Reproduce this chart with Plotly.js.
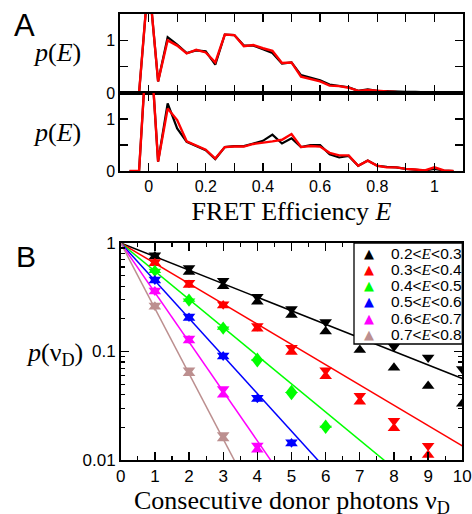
<!DOCTYPE html>
<html><head><meta charset="utf-8">
<script src="https://cdn.plot.ly/plotly-3.0.1.min.js"></script>
<style>html,body{margin:0;padding:0;background:#fff}#chart{width:472px;height:514px}</style>
</head><body><div id="chart"></div>
<script>
// ---------- Panel A data: FRET efficiency histograms ----------
const effE = [-0.0667,-0.0333,0,0.0333,0.0667,0.1,0.1333,0.1667,0.2,0.2333,0.2667,0.3,0.3333,0.3667,0.4,0.4333,0.4667,0.5,0.5333,0.5667,0.6,0.6333,0.6667,0.7,0.7333,0.7667,0.8,0.8333,0.8667,0.9,0.9333,0.9667,1.0,1.0333,1.0667];
const topBlack = [0,0,2.2,0.22,1.06,0.92,0.76,0.81,0.79,0.54,1.11,1.10,0.90,0.90,0.83,0.76,0.56,0.58,0.34,0.29,0.24,0.16,0.14,0.11,0.04,0.07,0.04,0.03,0.03,0.02,0.02,0.01,0.01,0.00,0];
const topRed   = [0,0,2.2,0.22,1.00,0.90,0.75,0.82,0.77,0.58,1.11,1.10,0.89,0.91,0.85,0.80,0.57,0.58,0.31,0.27,0.22,0.14,0.13,0.10,0.04,0.06,0.04,0.03,0.02,0.02,0.01,0.01,0.02,0.01,0];
const lowBlack = [0,0,3.0,0.18,1.30,0.82,0.56,0.48,0.40,0.23,0.46,0.48,0.48,0.53,0.58,0.70,0.53,0.63,0.46,0.50,0.50,0.32,0.26,0.29,0.10,0.20,0.10,0.08,0.07,0.04,0.02,0.01,0.04,0.01,0];
const lowRed   = [0,0,3.0,0.18,1.20,0.98,0.57,0.49,0.41,0.24,0.46,0.47,0.47,0.52,0.54,0.57,0.60,0.71,0.46,0.48,0.47,0.35,0.30,0.30,0.10,0.20,0.10,0.07,0.07,0.04,0.03,0.01,0.07,0.01,0];
const effTicks = [0,0.1,0.2,0.3,0.4,0.5,0.6,0.7,0.8,0.9,1];
const effTickText = ['0',' ','0.2',' ','0.4',' ','0.6',' ','0.8',' ','1'];

// ---------- Panel B data: consecutive donor photons ----------
const nuD = [1,2,3,4,5,6,7,8,9,10];
const binLow  = [0.2,0.3,0.4,0.5,0.6,0.7];
const binHigh = [0.3,0.4,0.5,0.6,0.7,0.8];
const binColors = ['#000000','#ff0000','#00ff00','#0000ff','#ff00ff','#bc8f8f'];
// downward triangles
const pDown = [
  [0.77,0.59,0.45,0.32,0.246,0.187,0.135,0.111,0.088,0.069],
  [0.67,0.43,0.272,0.172,0.108,0.067,0.039,0.023,0.0135,null],
  [0.545,0.29,0.16,0.080,0.040,0.0195,null,null,null,null],
  [0.46,0.21,0.092,0.0375,0.0146,null,null,null,null,null],
  [0.365,0.132,0.045,0.0136,null,null,null,null,null,null],
  [0.266,0.067,0.0170,null,null,null,null,null,null,null]
];
// upward triangles
const pUp = [
  [0.75,0.54,0.40,0.288,0.217,0.153,0.103,0.071,0.048,0.033],
  [0.65,0.41,0.265,0.162,0.099,0.059,0.0345,0.0196,0.0111,null],
  [0.56,0.305,0.168,0.087,0.044,0.021,null,null,null,null],
  [0.452,0.204,0.090,0.0365,0.0142,null,null,null,null,null],
  [0.357,0.126,0.040,0.0124,null,null,null,null,null,null],
  [0.258,0.063,0.0158,null,null,null,null,null,null,null]
];
const fitNu = [0,10];
const yTickVals = [0.01,0.1,1];
const yTickText = ['0.01','0.1','1'];

const W = 472, H = 514;
const px = v => v / W;
const py = v => 1 - v / H;

const traces = [];
function hist(x, y, col, w, xa, ya) {
  traces.push({x: x, y: y, xaxis: xa, yaxis: ya, type: 'scatter', mode: 'lines',
    line: {color: col, width: w}, showlegend: false, hoverinfo: 'skip'});
}
hist(effE, topBlack, '#000', 2.2, 'x', 'y');
hist(effE, topRed, '#ff0000', 2.4, 'x', 'y');
hist(effE, lowBlack, '#000', 2.2, 'x2', 'y2');
hist(effE, lowRed, '#ff0000', 2.4, 'x2', 'y2');

binLow.forEach((lo, i) => {
  const base = 1 - (lo + binHigh[i]) / 2;
  traces.push({x: fitNu, y: fitNu.map(n => Math.pow(base, n)), xaxis: 'x3', yaxis: 'y3',
    type: 'scatter', mode: 'lines', line: {color: binColors[i], width: 1.5},
    showlegend: false, hoverinfo: 'skip'});
});
binLow.forEach((lo, i) => {
  traces.push({x: nuD, y: pDown[i], xaxis: 'x3', yaxis: 'y3', type: 'scatter', mode: 'markers',
    marker: {symbol: 'triangle-down', size: 11, color: binColors[i]}, showlegend: false});
  traces.push({x: nuD, y: pUp[i], xaxis: 'x3', yaxis: 'y3', type: 'scatter', mode: 'markers',
    name: lo + '<E<' + binHigh[i],
    marker: {symbol: 'triangle-up', size: 11, color: binColors[i]}, showlegend: false});
});

const tickFont = {family: 'Liberation Sans, Arial, sans-serif', size: 16, color: '#000'};
const serif = 'Liberation Serif, Times New Roman, serif';
const common = {showline: true, linecolor: '#000', linewidth: 1.6, mirror: 'ticks', ticks: 'inside',
  tickcolor: '#000', tickwidth: 1.3, showgrid: false, zeroline: false, fixedrange: true};

const xA = Object.assign({}, common, {domain: [px(120), px(463)], range: [-0.1, 1.1],
  tickmode: 'array', tickvals: effTicks, ticktext: effTickText, ticklen: 8, tickfont: tickFont});
const yA = Object.assign({}, common, {range: [0, 1.5], tickmode: 'array', tickvals: [0, 0.5, 1],
  ticktext: ['0', ' ', '1'], ticklen: 8, tickfont: tickFont});

const layout = {
  width: W, height: H, margin: {l: 0, r: 0, t: 0, b: 0},
  paper_bgcolor: '#fff', plot_bgcolor: '#fff', showlegend: false,
  xaxis: Object.assign({}, xA, {anchor: 'y', showticklabels: false}),
  yaxis: Object.assign({}, yA, {anchor: 'x', domain: [py(93), py(14)]}),
  xaxis2: Object.assign({}, xA, {anchor: 'y2',
    title: {text: 'FRET Efficiency <i>E</i>', font: {family: serif, size: 26, color: '#000'}, standoff: 8}}),
  yaxis2: Object.assign({}, yA, {anchor: 'x2', domain: [py(171), py(93)]}),
  xaxis3: Object.assign({}, common, {anchor: 'y3', domain: [px(120.7), px(462.3)], range: [0, 10],
    tickmode: 'array', tickvals: nuD.concat([0]), ticklen: 8, tickfont: Object.assign({}, tickFont, {size: 17}),
    minor: {dtick: 0.5, ticks: 'inside', ticklen: 4, tickcolor: '#000', tickwidth: 1.2}}),
  yaxis3: Object.assign({}, common, {anchor: 'x3', domain: [py(460), py(243)], type: 'log',
    range: [-2.0002, 0.0002], tickmode: 'array', tickvals: yTickVals, ticktext: yTickText, ticklen: 8,
    tickfont: Object.assign({}, tickFont, {size: 17}),
    minor: {tickmode: 'array', tickvals: [0.02,0.03,0.04,0.05,0.06,0.07,0.08,0.09,0.2,0.3,0.4,0.5,0.6,0.7,0.8,0.9],
      ticks: 'inside', ticklen: 4, tickcolor: '#000', tickwidth: 1.2}}),
  shapes: [
    {type: 'rect', xref: 'paper', yref: 'paper', x0: px(354), x1: px(462.3), y0: py(344), y1: py(243),
      fillcolor: '#fff', line: {color: '#000', width: 1.3}, layer: 'above'}
  ],
  annotations: []
};
const ann = layout.annotations;
const sans = 'Liberation Sans, Arial, sans-serif';
ann.push({text: 'A', x: px(24), y: py(25), xref: 'paper', yref: 'paper', showarrow: false,
  font: {family: sans, size: 31, color: '#000'}, xanchor: 'center', yanchor: 'middle'});
ann.push({text: 'B', x: px(26), y: py(256), xref: 'paper', yref: 'paper', showarrow: false,
  font: {family: sans, size: 30, color: '#000'}, xanchor: 'center', yanchor: 'middle'});
[53, 132].forEach(yy => ann.push({text: '<i>p</i>(<i>E</i>)', x: px(57), y: py(yy), xref: 'paper', yref: 'paper',
  showarrow: false, font: {family: serif, size: 26, color: '#000'}, xanchor: 'center', yanchor: 'middle'}));
ann.push({text: '<i>p</i>(ν<sub>D</sub>)', x: px(54), y: py(354), xref: 'paper', yref: 'paper',
  showarrow: false, font: {family: serif, size: 26, color: '#000'}, xanchor: 'center', yanchor: 'middle'});
// x-axis title of panel B
ann.push({text: 'Consecutive donor photons ν<sub>D</sub>', x: px(291.5), y: py(484), xref: 'paper', yref: 'paper',
  showarrow: false, font: {family: serif, size: 26, color: '#000'}, xanchor: 'center', yanchor: 'top'});
binLow.forEach((lo, i) => {
  const yy = 253.3 + 16.2 * i;
  ann.push({text: '▲', x: px(368.5), y: py(yy), xref: 'paper', yref: 'paper', showarrow: false,
    font: {family: 'DejaVu Sans', size: 13, color: binColors[i]}, xanchor: 'center', yanchor: 'middle'});
  ann.push({text: lo + '&lt;<i><span style="font-family:Liberation Serif">E</span></i>&lt;' + binHigh[i],
    x: px(389), y: py(yy), xref: 'paper', yref: 'paper', showarrow: false,
    font: {family: sans, size: 15.5, color: '#000'}, xanchor: 'left', yanchor: 'middle'});
});

Plotly.newPlot('chart', traces, layout, {staticPlot: true, displayModeBar: false});
</script></body></html>
